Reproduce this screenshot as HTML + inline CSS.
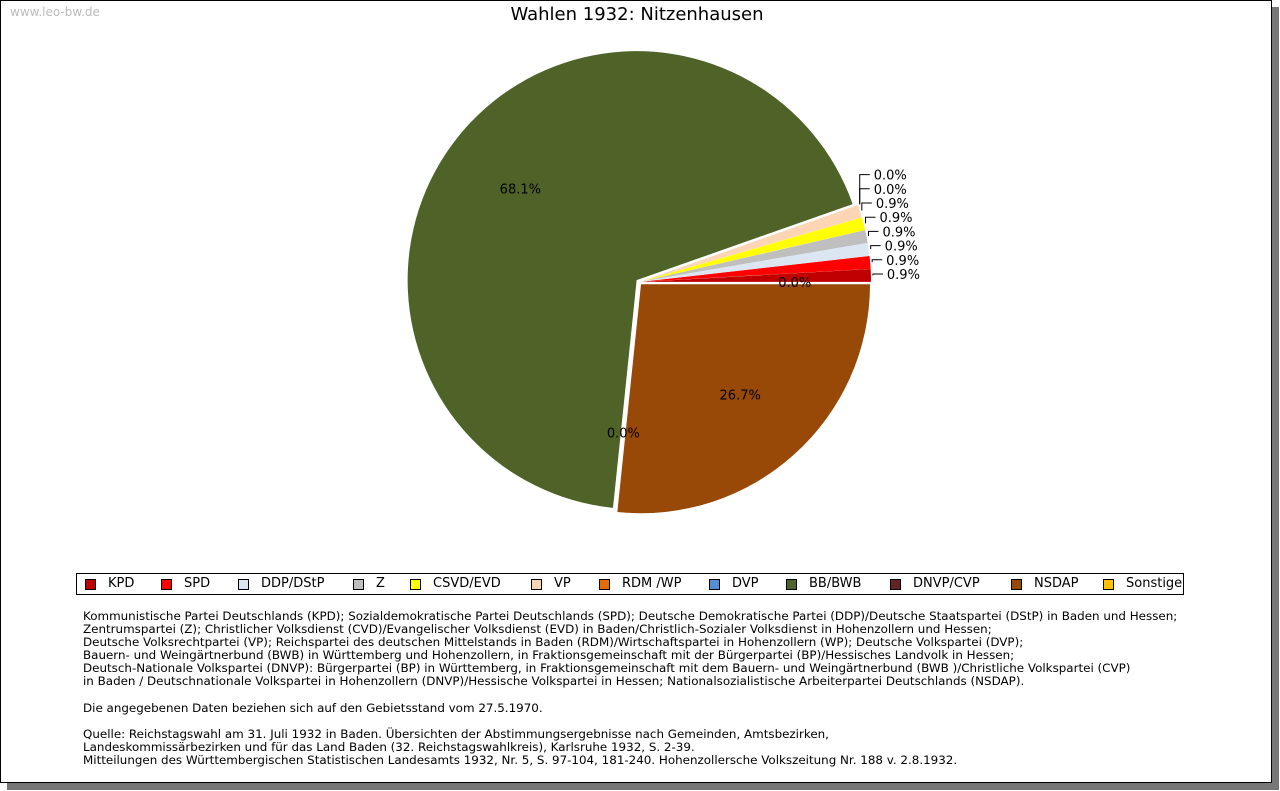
<!DOCTYPE html>
<html><head><meta charset="utf-8"><style>
body{margin:0;width:1280px;height:791px;background:#fff;overflow:hidden;font-family:"DejaVu Sans","Liberation Sans",sans-serif;}
#frame{position:absolute;left:0;top:0;width:1270px;height:781px;border:1px solid #000;background:#fff;box-shadow:7px 7px 0 #777;}
#wm{position:absolute;left:9px;top:4px;font-size:12px;color:#bbb;}
#title{position:absolute;left:0;width:1272px;top:3px;text-align:center;font-size:18px;color:#000;}
#legend{position:absolute;left:75px;top:572px;width:1106px;height:20px;border:1px solid #000;}
.li{position:absolute;top:0;height:20px;font-size:13px;line-height:20px;}
.sw{position:absolute;top:5px;width:9px;height:9px;border:1px solid #000;}
#notes{position:absolute;left:82px;top:609px;font-size:11.9px;line-height:13.1px;color:#000;white-space:pre;}
</style></head><body>
<div id="frame">
<div id="wm">www.leo-bw.de</div>
<div id="title">Wahlen 1932: Nitzenhausen</div>
<svg id="pie" width="1272" height="560" style="position:absolute;left:0;top:0"></svg>
<div id="legend"></div>
<div id="notes">Kommunistische Partei Deutschlands (KPD); Sozialdemokratische Partei Deutschlands (SPD); Deutsche Demokratische Partei (DDP)/Deutsche Staatspartei (DStP) in Baden und Hessen;
Zentrumspartei (Z); Christlicher Volksdienst (CVD)/Evangelischer Volksdienst (EVD) in Baden/Christlich-Sozialer Volksdienst in Hohenzollern und Hessen;
Deutsche Volksrechtpartei (VP); Reichspartei des deutschen Mittelstands in Baden (RDM)/Wirtschaftspartei in Hohenzollern (WP); Deutsche Volkspartei (DVP);
Bauern- und Weingärtnerbund (BWB) in Württemberg und Hohenzollern, in Fraktionsgemeinschaft mit der Bürgerpartei (BP)/Hessisches Landvolk in Hessen;
Deutsch-Nationale Volkspartei (DNVP): Bürgerpartei (BP) in Württemberg, in Fraktionsgemeinschaft mit dem Bauern- und Weingärtnerbund (BWB )/Christliche Volkspartei (CVP)
in Baden / Deutschnationale Volkspartei in Hohenzollern (DNVP)/Hessische Volkspartei in Hessen; Nationalsozialistische Arbeiterpartei Deutschlands (NSDAP).

Die angegebenen Daten beziehen sich auf den Gebietsstand vom 27.5.1970.

Quelle: Reichstagswahl am 31. Juli 1932 in Baden. Übersichten der Abstimmungsergebnisse nach Gemeinden, Amtsbezirken,
Landeskommissärbezirken und für das Land Baden (32. Reichstagswahlkreis), Karlsruhe 1932, S. 2-39.
Mitteilungen des Württembergischen Statistischen Landesamts 1932, Nr. 5, S. 97-104, 181-240. Hohenzollersche Volkszeitung Nr. 188 v. 2.8.1932.</div>
</div>
<script>
const parties=["KPD","SPD","DDP/DStP","Z","CSVD/EVD","VP","RDM /WP","DVP","BB/BWB","DNVP/CVP","NSDAP","Sonstige"];
const shares=[0.9,0.9,0.9,0.9,0.9,0.9,0.0,0.0,68.1,0.0,26.7,0.0];
const colors=["#c00000","#ff0000","#dce6f2","#bfbfbf","#ffff00","#fcd5b5","#e36c09","#558ed5","#4f6228","#632423","#984807","#ffc000"];
const legendX=[8,84,161,276,333,454,522,632,709,813,934,1026];
const svg=document.getElementById('pie');
const NS="http://www.w3.org/2000/svg";
const cx=638,cy=281,R=229,ex=3;
const total=shares.reduce((a,b)=>a+b,0);
let a0=0;
let extIdx=0;
const labels=[];
shares.forEach((v,i)=>{
  const sweep=v/total*2*Math.PI;
  const a1=a0+sweep, mid=(a0+a1)/2;
  const ox=cx+ex*Math.cos(mid), oy=cy-ex*Math.sin(mid);
  if(v>0){
    const p=document.createElementNS(NS,'path');
    const x0=ox+R*Math.cos(a0),y0=oy-R*Math.sin(a0),x1=ox+R*Math.cos(a1),y1=oy-R*Math.sin(a1);
    p.setAttribute('d',`M${ox},${oy}L${x0},${y0}A${R},${R} 0 ${sweep>Math.PI?1:0} 0 ${x1},${y1}Z`);
    p.setAttribute('fill',colors[i]);
    
    
    svg.appendChild(p);
  }
  const txt=document.createElementNS(NS,'text');
  txt.textContent=v.toFixed(1)+'%';
  txt.setAttribute('font-size','13');
  
  
  if(i<8){
    const ly=273-14.2*extIdx; extIdx++;
    const px=ox+(R+2)*Math.cos(mid), py=oy-(R+2)*Math.sin(mid);
    const line=document.createElementNS(NS,'polyline');
    line.setAttribute('points',`${px},${py} ${px},${ly} ${px+10},${ly}`);
    line.setAttribute('fill','none');line.setAttribute('stroke','#000');
    
    
    labels.push(line);
    txt.setAttribute('x',px+14);txt.setAttribute('y',ly+5);
  } else {
    const r=0.66*R;
    let tx=cx+r*Math.cos(mid), ty=cy-r*Math.sin(mid);
    if(i===11){tx=cx+R*0.68;ty=cy;}
    txt.setAttribute('x',tx);txt.setAttribute('y',ty+5);txt.setAttribute('text-anchor','middle');
  }
  labels.push(txt);
  a0=a1;
});
labels.forEach(l=>svg.appendChild(l));
const lg=document.getElementById('legend');
parties.forEach((n,i)=>{
  const d=document.createElement('div');d.className='li';d.style.left=legendX[i]+'px';
  
  
  d.innerHTML=`<span class="sw" style="left:0;background:${colors[i]}"></span><span style="position:absolute;left:23px;white-space:nowrap">${n}</span>`;
  lg.appendChild(d);
});
</script>
</body></html>
